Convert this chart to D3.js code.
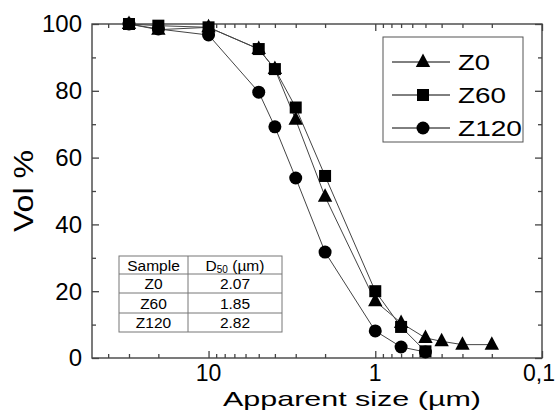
<!DOCTYPE html>
<html><head><meta charset="utf-8">
<script src="https://cdn.jsdelivr.net/npm/d3@7"></script>
<style>body{margin:0;background:#fff}svg{display:block}text{font-family:"Liberation Sans",Arial,sans-serif;fill:#000}</style>
</head><body><svg id="c" width="559" height="416"></svg>
<script>
const sizes = [30, 20, 10, 5, 4, 3, 2, 1, 0.7, 0.5, 0.4, 0.3, 0.2];
const z0 = [100, 98.3, 99, 92.5, 86.5, 71.3, 48.3, 17, 10.5, 6, 5, 4, 4];
const z60 = [100, 99.5, 99, 92.5, 86.5, 75, 54.5, 20, 9.3, 2];
const z120 = [100, 98.5, 96.7, 79.6, 69.2, 53.9, 31.7, 8.1, 3.3, 1.8];
const seriesNames = ["Z0", "Z60", "Z120"];
const seriesShapes = ["triangle", "square", "circle"];
const xTickVals = [10, 1, 0.1];
const xTickLabels = ["10", "1", "0,1"];
const yTickVals = [0, 20, 40, 60, 80, 100];
const tableHeader = ["Sample", "D50 (µm)"];
const tableSamples = ["Z0", "Z60", "Z120"];
const tableD50 = ["2.07", "1.85", "2.82"];

const svg = d3.select("#c");
const L = 92, R = 542, T = 24, B = 358;
const x = d3.scaleLog().domain([50, 0.1]).range([L, R]);
const y = d3.scaleLinear().domain([0, 100]).range([B, T]);
const axisCol = "#444";

const minors = [];
[[10, 40, 30, 20], [1, 9, 8, 7, 6, 5, 4, 3, 2], [0.1, 0.9, 0.8, 0.7, 0.6, 0.5, 0.4, 0.3, 0.2]].forEach(a => a.slice(1).forEach(v => minors.push(v)));
const yMinors = [10, 30, 50, 70, 90];

const g = svg.append("g");
const ax = d3.axisBottom(x).tickValues(xTickVals).tickSize(-7).tickFormat("");
const axm = d3.axisBottom(x).tickValues(minors).tickSize(-4).tickFormat("");
const axT = d3.axisTop(x).tickValues(xTickVals).tickSize(-7).tickFormat("");
const axTm = d3.axisTop(x).tickValues(minors).tickSize(-4).tickFormat("");
const ay = d3.axisLeft(y).tickValues(yTickVals).tickSize(-7).tickFormat("");
const aym = d3.axisLeft(y).tickValues(yMinors).tickSize(-4).tickFormat("");
const ayR = d3.axisRight(y).tickValues(yTickVals).tickSize(-7).tickFormat("");
const ayRm = d3.axisRight(y).tickValues(yMinors).tickSize(-4).tickFormat("");
function styleAx(sel){ sel.selectAll("path,line").attr("stroke", axisCol).attr("stroke-width", 1.3); sel.select(".domain").remove(); }
g.append("g").attr("transform", `translate(0,${B})`).call(ax).call(styleAx);
g.append("g").attr("transform", `translate(0,${B})`).call(axm).call(styleAx);
g.append("g").attr("transform", `translate(0,${T})`).call(axT).call(styleAx);
g.append("g").attr("transform", `translate(0,${T})`).call(axTm).call(styleAx);
g.append("g").attr("transform", `translate(${L},0)`).call(ay).call(styleAx);
g.append("g").attr("transform", `translate(${L},0)`).call(aym).call(styleAx);
g.append("g").attr("transform", `translate(${R},0)`).call(ayR).call(styleAx);
g.append("g").attr("transform", `translate(${R},0)`).call(ayRm).call(styleAx);
g.append("rect").attr("x", L).attr("y", T).attr("width", R - L).attr("height", B - T)
  .attr("fill", "none").attr("stroke", axisCol).attr("stroke-width", 1.4);

g.selectAll(".xl").data(xTickVals).enter().append("text")
  .attr("x", d => x(d) - (d === 0.1 ? 3 : 0)).attr("y", 381).attr("text-anchor", "middle")
  .attr("font-size", 23).text((d, i) => xTickLabels[i]);
g.selectAll(".yl").data(yTickVals).enter().append("text")
  .attr("x", 82).attr("y", d => y(d)).attr("dy", "0.35em").attr("text-anchor", "end")
  .attr("font-size", 24).text(d => d);

svg.append("text").attr("x", 352).attr("y", 406).attr("text-anchor", "middle")
  .attr("font-size", 21).attr("textLength", 258).attr("lengthAdjust", "spacingAndGlyphs")
  .text("Apparent size (µm)");
svg.append("text").attr("transform", "translate(33,191) rotate(-90)").attr("text-anchor", "middle")
  .attr("font-size", 28).attr("textLength", 82).attr("lengthAdjust", "spacingAndGlyphs")
  .text("Vol %");

function drawMarker(sel, shape){
  if (shape === "triangle") sel.append("path").attr("d", "M0,-8.5L7.2,5L-7.2,5Z").attr("fill", "#000");
  else if (shape === "square") sel.append("rect").attr("x", -6).attr("y", -6).attr("width", 12).attr("height", 12).attr("fill", "#000");
  else sel.append("circle").attr("r", 6.5).attr("fill", "#000");
}
const allSeries = [z0, z60, z120];
const line = d3.line().x(d => x(d[0])).y(d => y(d[1]));
allSeries.forEach((vals, si) => {
  const pts = vals.map((v, i) => [sizes[i], v]);
  svg.append("path").datum(pts).attr("d", line).attr("fill", "none").attr("stroke", "#444").attr("stroke-width", 1);
});
allSeries.forEach((vals, si) => {
  const pts = vals.map((v, i) => [sizes[i], v]);
  pts.forEach(p => {
    const m = svg.append("g").attr("transform", `translate(${x(p[0])},${y(p[1])})`);
    drawMarker(m, seriesShapes[si]);
  });
});

const lg = svg.append("g");
lg.append("rect").attr("x", 383).attr("y", 37).attr("width", 140).attr("height", 105)
  .attr("fill", "#fff").attr("stroke", "#555").attr("stroke-width", 1);
seriesNames.forEach((n, i) => {
  const yy = 62 + i * 33;
  lg.append("line").attr("x1", 392).attr("x2", 450).attr("y1", yy).attr("y2", yy).attr("stroke", "#000").attr("stroke-width", 1);
  const m = lg.append("g").attr("transform", `translate(423,${yy})`);
  drawMarker(m, seriesShapes[i]);
  lg.append("text").attr("x", 458).attr("y", yy).attr("dy", "0.36em").attr("font-size", 22)
    .attr("textLength", n.length * 16).attr("lengthAdjust", "spacingAndGlyphs").text(n);
});

const tx0 = 119, tx1 = 188, tx2 = 282;
const rowsY = [256, 274, 293, 313, 332];
const tg = svg.append("g");
tg.append("rect").attr("x", tx0).attr("y", rowsY[0]).attr("width", tx2 - tx0).attr("height", rowsY[4] - rowsY[0])
  .attr("fill", "#fff").attr("stroke", "#777").attr("stroke-width", 1);
rowsY.slice(1, 4).forEach(ry => tg.append("line").attr("x1", tx0).attr("x2", tx2).attr("y1", ry).attr("y2", ry).attr("stroke", "#777"));
tg.append("line").attr("x1", tx1).attr("x2", tx1).attr("y1", rowsY[0]).attr("y2", rowsY[4]).attr("stroke", "#777");
const c1 = (tx0 + tx1) / 2, c2 = (tx1 + tx2) / 2;
tg.append("text").attr("x", c1).attr("y", (rowsY[0] + rowsY[1]) / 2).attr("dy", "0.36em").attr("text-anchor", "middle").attr("font-size", 15.5).text(tableHeader[0]);
const hd = tg.append("text").attr("x", c2).attr("y", (rowsY[0] + rowsY[1]) / 2).attr("dy", "0.36em").attr("text-anchor", "middle").attr("font-size", 15.5);
hd.append("tspan").text("D");
hd.append("tspan").attr("font-size", 10).attr("dy", "0.25em").text("50");
hd.append("tspan").attr("dy", "-0.16em").text(" (µm)");
tableSamples.forEach((s, i) => {
  const cy = (rowsY[i + 1] + rowsY[i + 2]) / 2;
  tg.append("text").attr("x", c1).attr("y", cy).attr("dy", "0.36em").attr("text-anchor", "middle").attr("font-size", 15.5).text(s);
  tg.append("text").attr("x", c2).attr("y", cy).attr("dy", "0.36em").attr("text-anchor", "middle").attr("font-size", 15.5).text(tableD50[i]);
});
</script></body></html>
